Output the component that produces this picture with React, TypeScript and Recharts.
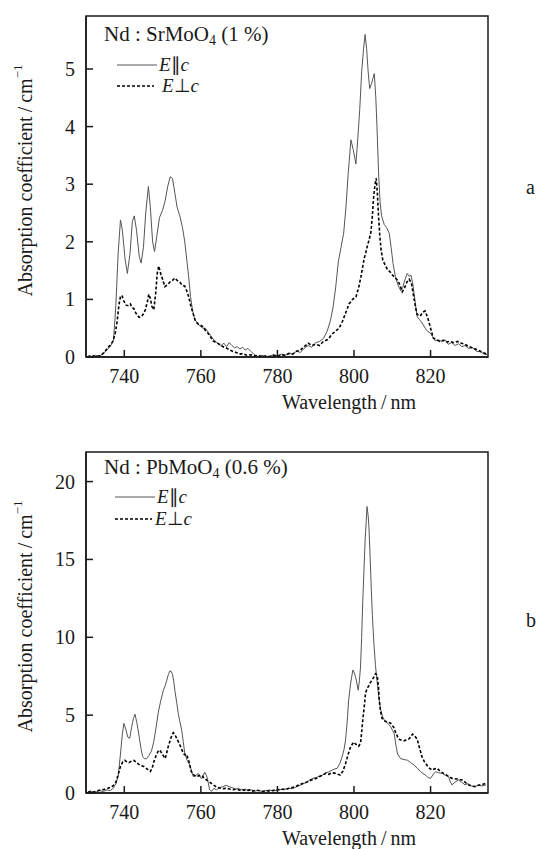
import React from 'react';
import { LineChart, Line, XAxis, YAxis, ReferenceArea, Label } from 'recharts';

const xTicks = [740, 760, 780, 800, 820];
const srYTicks = [0, 1, 2, 3, 4, 5];
const pbYTicks = [0, 5, 10, 15, 20];
const panelTags = ['a', 'b'];
const panelTitles = ['SrMoO', 'PbMoO'];
const panelConc = ['1 %', '0.6 %'];

// Nd:SrMoO4, E || c
const srParX = [730.5,731.5,732.5,733.5,734.5,735.5,736.5,737.2,737.8,738.4,739.0,739.5,740.2,740.8,741.5,742.1,742.6,743.2,743.9,744.4,745.0,745.6,746.3,746.8,747.4,747.9,748.5,749.2,750.0,750.7,751.3,752.0,752.6,753.2,753.8,754.5,755.2,755.8,756.3,756.8,757.3,757.8,758.4,759.0,759.7,760.5,761.2,761.8,762.5,763.2,763.9,764.6,765.3,766.0,766.7,767.4,768.1,768.8,769.5,770.2,770.9,771.6,772.3,773.0,773.7,774.4,775.2,776,777,778,779,780,781,782,783,784,785,786,787,788,789,790,791,792,793,793.8,794.5,795.2,795.9,796.6,797.3,797.9,798.5,799.2,799.8,800.5,801.0,801.5,802.0,802.5,802.9,803.3,803.7,804.1,804.6,805.0,805.3,805.7,806.0,806.4,806.8,807.2,807.9,808.5,809.2,809.7,810.2,810.8,811.5,812.2,812.7,813.2,813.9,814.4,814.9,815.4,815.9,816.5,817.1,817.8,818.6,819.3,819.9,820.6,821.2,822,822.9,823.8,824.6,825.5,826.4,827.3,828.2,829,830,831,832,833,834,834.9];
const srParY = [0.02,0.0,0.03,0.01,0.06,0.12,0.2,0.3,0.9,1.8,2.38,2.2,1.7,1.45,1.8,2.35,2.45,2.2,1.75,1.63,1.9,2.5,2.96,2.6,2.0,1.83,2.1,2.42,2.55,2.72,2.95,3.13,3.1,2.85,2.6,2.45,2.25,2.0,1.7,1.4,1.05,0.82,0.65,0.6,0.54,0.5,0.5,0.44,0.38,0.31,0.27,0.22,0.2,0.24,0.18,0.25,0.2,0.16,0.18,0.14,0.17,0.12,0.15,0.1,0.06,0.02,0.0,0.03,0.0,0.02,0.04,0.02,0.05,0.03,0.07,0.05,0.1,0.08,0.15,0.2,0.17,0.25,0.27,0.32,0.45,0.62,0.85,1.2,1.65,1.9,2.15,2.6,3.2,3.77,3.6,3.35,3.8,4.3,4.95,5.35,5.6,5.35,4.95,4.66,4.75,4.85,4.92,4.5,4.0,3.23,2.7,2.45,2.3,2.25,2.15,1.9,1.62,1.4,1.25,1.15,1.2,1.32,1.45,1.4,1.42,1.25,1.0,0.7,0.65,0.59,0.5,0.44,0.42,0.35,0.28,0.3,0.27,0.3,0.22,0.25,0.2,0.23,0.18,0.2,0.15,0.16,0.1,0.09,0.05,0.04];

// Nd:SrMoO4, E ⊥ c
const srPerpX = [730.5,731.5,732.5,733.5,734.3,735.0,735.6,736.3,737.0,737.6,738.1,738.6,739.0,739.4,739.9,740.5,741.1,741.6,742.0,742.5,742.9,743.4,743.9,744.5,745.0,745.5,746.0,746.4,746.8,747.2,747.7,748.2,748.6,749.0,749.5,750.0,750.6,751.2,751.9,752.6,753.2,753.8,754.5,755.1,755.8,756.3,756.8,757.4,758.0,758.6,759.3,760.0,760.6,761.2,761.9,762.6,763.2,764.0,764.9,765.7,766.6,767.5,768.3,769.2,770.1,771,772,773,774,775,776,777,778,779,780,781,782,783,784,785,786,787,788,789,790,791,792,793,793.5,794.3,795.2,796.1,797,797.9,798.7,799.6,800.5,801.2,801.8,802.3,802.7,803.1,803.5,804.0,804.4,804.8,805.1,805.5,805.8,806.1,806.4,806.8,807.1,807.5,808.1,808.8,809.4,810.1,810.7,811.4,812.0,812.6,813.2,813.9,814.4,815.0,815.6,816.1,816.5,817.3,818.0,818.6,819.4,820.0,820.7,821.5,822.4,823.3,824.1,825,826,827,828.1,829,830,831,832,833,834,834.9];
const srPerpY = [0.0,0.03,0.0,0.02,0.05,0.1,0.16,0.2,0.27,0.4,0.6,0.9,1.05,1.07,0.97,0.9,0.89,0.92,0.86,0.84,0.78,0.72,0.69,0.7,0.75,0.82,0.95,1.09,1.02,0.88,0.82,1.1,1.45,1.58,1.45,1.35,1.22,1.25,1.3,1.33,1.37,1.33,1.3,1.25,1.23,1.15,1.05,0.88,0.75,0.62,0.57,0.55,0.52,0.46,0.41,0.34,0.28,0.25,0.22,0.18,0.16,0.12,0.1,0.08,0.05,0.06,0.03,0.04,0.02,0.03,0.0,0.02,0.0,0.03,0.01,0.04,0.03,0.06,0.05,0.1,0.12,0.18,0.24,0.2,0.22,0.2,0.27,0.3,0.33,0.4,0.45,0.5,0.62,0.78,0.92,1.0,1.04,1.2,1.39,1.58,1.72,1.82,1.93,2.05,2.16,2.45,2.76,3.0,3.1,2.85,2.45,2.05,1.85,1.69,1.6,1.51,1.48,1.42,1.38,1.33,1.25,1.13,1.2,1.31,1.35,1.28,1.04,0.85,0.74,0.71,0.78,0.8,0.65,0.5,0.33,0.3,0.27,0.29,0.26,0.27,0.25,0.27,0.24,0.22,0.18,0.16,0.13,0.1,0.07,0.05];

// Nd:PbMoO4, E || c
const pbParX = [730.5,731.5,732.5,733.5,734.5,735.5,736.3,737.1,737.8,738.4,739.0,739.5,739.9,740.4,740.9,741.4,741.9,742.4,742.8,743.3,743.9,744.4,744.8,745.3,745.8,746.4,747.1,747.7,748.3,748.9,749.5,750.2,750.7,751.1,751.5,751.9,752.3,752.6,752.9,753.2,753.7,754.1,754.5,755.0,755.4,755.8,756.4,757.1,757.6,758.0,758.6,759.3,759.8,760.2,760.6,761.0,761.5,761.9,762.3,762.8,763.4,764.1,764.9,765.7,766.6,767.4,768.2,769.0,769.8,770.6,771.5,772.4,773.3,774.2,775.1,776,777,778,779,780,781,782,783,784,785,786,786.8,787.7,788.5,789.3,790.2,791.0,791.8,792.6,793.4,794.3,795.0,795.6,796.3,796.9,797.4,797.8,798.2,798.6,799.1,799.7,800.1,800.4,800.8,801.1,801.4,801.7,802.0,802.3,802.6,802.9,803.2,803.4,803.7,803.9,804.2,804.5,804.8,805.2,805.6,806.1,806.5,807.0,807.5,807.9,808.7,809.6,810.1,810.5,811.0,811.4,812.2,813.1,814.0,814.8,815.7,816.5,817.4,818.0,818.7,819.3,820.0,820.7,821.3,822.1,823.0,823.8,824.7,825.2,825.6,826.4,827.3,828.1,829.0,829.8,830.7,831.6,832.5,833.4,834.5];
const pbParY = [0.05,0.1,0.05,0.15,0.1,0.2,0.15,0.3,0.6,1.05,2.5,3.8,4.47,4.1,3.6,3.5,4.2,4.8,5.06,4.5,3.6,2.8,2.33,2.2,2.2,2.4,2.7,3.3,4.2,5.2,5.9,6.6,6.9,7.24,7.6,7.84,7.8,7.6,7.2,6.6,5.8,5.1,4.6,4.03,3.3,2.55,2.1,1.8,1.4,1.05,1.1,1.26,1.05,0.9,1.1,1.34,1.1,0.7,0.2,0.1,0.3,0.2,0.35,0.4,0.5,0.4,0.35,0.25,0.3,0.2,0.25,0.15,0.2,0.12,0.18,0.1,0.15,0.2,0.12,0.2,0.22,0.25,0.3,0.28,0.4,0.5,0.6,0.7,0.85,0.95,1.0,1.1,1.15,1.3,1.35,1.47,1.55,1.58,1.9,2.33,2.8,3.4,4.5,5.96,7.0,7.9,7.7,7.46,7.0,6.6,7.2,8.1,10.0,12.4,14.3,16.2,17.5,18.4,17.8,17.1,15.2,13.2,11.4,9.6,8.2,7.0,6.1,5.3,4.9,4.7,4.5,4.25,4.0,3.8,3.0,2.5,2.2,2.15,2.1,1.95,1.8,1.6,1.37,1.25,1.15,1.0,0.94,1.2,1.37,1.3,1.26,1.15,1.05,0.7,0.52,0.7,0.84,0.7,0.52,0.6,0.45,0.41,0.5,0.45,0.52];

// Nd:PbMoO4, E ⊥ c
const pbPerpX = [730.5,731.2,732.0,733,734,735,736.3,737.0,737.7,738.3,739.0,739.6,740.1,740.7,741.2,741.9,742.5,743.2,743.8,744.5,745.1,745.9,746.8,747.3,747.7,748.3,749.0,749.4,749.8,750.3,750.7,751.1,751.5,752.0,752.4,752.8,753.2,753.7,754.1,754.5,755.0,755.4,755.8,756.2,756.8,757.5,758.2,758.8,759.4,760.1,760.7,761.4,762.3,763.2,764.0,764.9,765.8,766.7,767.5,768.4,769.3,770.1,770.9,771.8,772.7,773.5,774.4,775.3,776.2,777.1,778,779,780,781,782,783,784,785,786,786.8,787.7,788.6,789.4,790.2,791.0,791.8,792.6,793.4,794.3,795.2,795.8,796.4,797.1,797.8,798.5,799.1,799.9,800.4,800.8,801.2,801.7,802.0,802.3,802.7,803.0,803.4,803.9,804.3,804.7,805.2,805.6,805.9,806.1,806.4,806.6,806.9,807.3,807.8,808.2,808.8,809.5,810.0,810.4,811.0,811.7,812.3,813.0,813.6,814.3,814.8,815.3,815.9,816.5,817.1,817.8,818.4,819.1,819.7,820.4,821.0,821.7,822.5,823.4,824.5,825.6,826.9,828.2,829.0,829.9,830.7,831.6,832.5,833.5,834.5];
const pbPerpY = [0.05,0.1,0.05,0.15,0.2,0.25,0.35,0.45,0.62,1.1,1.7,2.0,2.1,2.0,1.95,2.05,2.1,1.95,1.84,1.75,1.7,1.55,1.38,1.6,1.99,2.4,2.76,2.7,2.56,2.35,2.22,2.6,3.0,3.4,3.7,3.87,3.75,3.5,3.3,3.1,2.8,2.56,2.45,2.5,2.1,1.38,1.15,1.05,1.1,1.15,1.0,0.85,0.7,0.53,0.4,0.32,0.28,0.3,0.26,0.22,0.25,0.18,0.2,0.15,0.2,0.12,0.18,0.15,0.1,0.15,0.12,0.18,0.2,0.25,0.22,0.3,0.36,0.45,0.55,0.62,0.7,0.8,0.88,0.94,1.05,1.15,1.26,1.2,1.3,1.26,1.2,1.15,1.4,1.9,2.5,2.96,3.27,3.15,3.06,3.0,3.2,3.9,4.7,5.6,6.4,6.7,6.9,7.1,7.25,7.45,7.66,7.6,7.45,6.8,5.96,5.3,4.8,4.65,4.6,4.55,4.5,4.35,4.2,3.8,3.46,3.4,3.35,3.4,3.46,3.6,3.78,3.65,3.46,2.9,2.3,2.0,1.77,1.6,1.47,1.55,1.58,1.4,1.26,1.1,0.94,0.9,0.84,0.7,0.52,0.45,0.41,0.5,0.55,0.62];

const zip = (xs: number[], ys: number[]) => xs.map((x, i) => ({ x, y: ys[i] }));

const FONT = "'Liberation Serif', 'Times New Roman', serif";
const INK = '#1a1a1a';
const X_DOMAIN: [number, number] = [730, 835];

const W = 536;
const MARGIN = { top: 16, right: 48, bottom: 0, left: 0 };

function XTick(props: any) {
  const { x, y, payload } = props;
  return (
    <text x={x} y={y} dy={14} textAnchor="middle" fontFamily={FONT} fontSize={20} fill={INK}>
      {payload.value}
    </text>
  );
}

function YTick(props: any) {
  const { x, y, payload } = props;
  return (
    <text x={x} y={y} dy={7} textAnchor="end" fontFamily={FONT} fontSize={20} fill={INK}>
      {payload.value}
    </text>
  );
}

type PanelProps = {
  idx: number;
  par: { x: number; y: number }[];
  perp: { x: number; y: number }[];
  yMax: number;
  yTicks: number[];
  top: number;
  height: number;
  titleY: number;
  row1Y: number;
  row2Y: number;
  row1TextX: number;
  row2TextX: number;
  lineX: number;
  tagY: number;
};

function Panel(p: PanelProps) {
  const { idx, par, perp, yMax, yTicks, top, height } = p;
  return (
    <div style={{ position: 'absolute', left: 0, top, width: W, height, fontFamily: FONT }}>
      <LineChart width={W} height={height} margin={MARGIN} style={{ fontFamily: FONT }}>
        <XAxis
          dataKey="x"
          type="number"
          domain={X_DOMAIN}
          ticks={xTicks}
          allowDataOverflow
          height={height - 357}
          tickSize={-7}
          tickMargin={19}
          tick={<XTick />}
          axisLine={{ stroke: INK, strokeWidth: 1.5 }}
          tickLine={{ stroke: INK, strokeWidth: 1.5 }}
        >
          <Label
            content={(props: any) => {
              const vb = props.viewBox || { x: 86, y: 357, width: 402 };
              return (
                <text x={vb.x + vb.width / 2 + 62} y={vb.y + 52} textAnchor="middle" fontFamily={FONT} fontSize={20} fill={INK}>
                  Wavelength{'\u2009'}/{'\u2009'}nm
                </text>
              );
            }}
          />
        </XAxis>
        <YAxis
          type="number"
          domain={[0, yMax]}
          ticks={yTicks}
          allowDataOverflow
          width={86}
          tickSize={-7}
          tickMargin={18}
          tick={<YTick />}
          axisLine={{ stroke: INK, strokeWidth: 1.5 }}
          tickLine={{ stroke: INK, strokeWidth: 1.5 }}
        >
          <Label
            content={(props: any) => {
              const vb = props.viewBox || { x: 0, y: 16, height: 341 };
              const cx = 25;
              const cy = vb.y + vb.height / 2 - 6;
              return (
                <text
                  x={cx}
                  y={cy}
                  transform={`rotate(-90, ${cx}, ${cy})`}
                  textAnchor="middle"
                  dominantBaseline="central"
                  fontFamily={FONT}
                  fontSize={20}
                  fill={INK}
                >
                  Absorption coefficient{'\u2009'}/{'\u2009'}cm
                  <tspan dy={-8} fontSize={13}>{'\u2212'}1</tspan>
                </text>
              );
            }}
          />
        </YAxis>
        <ReferenceArea x1={X_DOMAIN[0]} x2={X_DOMAIN[1]} y1={0} y2={yMax} fill="none" stroke={INK} strokeWidth={1.5} ifOverflow="visible" />
        <Line data={par} dataKey="y" type="linear" stroke="#555" strokeWidth={1} dot={false} activeDot={false} isAnimationActive={false} />
        <Line data={perp} dataKey="y" type="linear" stroke="#000" strokeWidth={1.6} strokeDasharray="3 2" dot={false} activeDot={false} isAnimationActive={false} />
      </LineChart>

      <div style={{ position: 'absolute', left: 104, top: p.titleY - 12, height: 24, fontSize: 21, lineHeight: '24px', color: INK, whiteSpace: 'nowrap' }}>
        Nd : {panelTitles[idx]}
        <span style={{ fontSize: 14, position: 'relative', top: 4 }}>4</span> ({panelConc[idx]})
      </div>

      <svg style={{ position: 'absolute', left: 0, top: 0 }} width={W} height={120} pointerEvents="none">
        <line x1={p.lineX} y1={p.row1Y} x2={p.lineX + 40} y2={p.row1Y} stroke="#555" strokeWidth={1} />
        <line x1={p.lineX} y1={p.row2Y} x2={p.lineX + 37} y2={p.row2Y} stroke="#000" strokeWidth={1.6} strokeDasharray="3 2" />
      </svg>
      <div style={{ position: 'absolute', left: p.row1TextX, top: p.row1Y - 8, height: 16, fontSize: 19, lineHeight: '16px', color: INK, whiteSpace: 'nowrap' }}>
        <i>E</i>{'\u2225'}<i>c</i>
      </div>
      <div style={{ position: 'absolute', left: p.row2TextX, top: p.row2Y - 8, height: 16, fontSize: 19, lineHeight: '16px', color: INK, whiteSpace: 'nowrap' }}>
        <i>E</i>{'\u22A5'}<i>c</i>
      </div>

      <div style={{ position: 'absolute', left: 526, top: p.tagY - 11, fontSize: 20, lineHeight: '22px', color: INK }}>
        {panelTags[idx]}
      </div>
    </div>
  );
}

export default function App() {
  return (
    <div style={{ position: 'absolute', left: 0, top: 0, width: W, height: 849, background: '#fff', fontFamily: FONT }}>
      <Panel
        idx={0}
        par={zip(srParX, srParY)}
        perp={zip(srPerpX, srPerpY)}
        yMax={5.92}
        yTicks={srYTicks}
        top={0}
        height={420}
        titleY={34}
        row1Y={65}
        row2Y={86}
        lineX={117}
        row1TextX={159}
        row2TextX={162}
        tagY={187}
      />
      <Panel
        idx={1}
        par={zip(pbParX, pbParY)}
        perp={zip(pbPerpX, pbPerpY)}
        yMax={21.9}
        yTicks={pbYTicks}
        top={436}
        height={413}
        titleY={31}
        row1Y={61}
        row2Y={83}
        lineX={115}
        row1TextX={157}
        row2TextX={155}
        tagY={184}
      />
    </div>
  );
}
